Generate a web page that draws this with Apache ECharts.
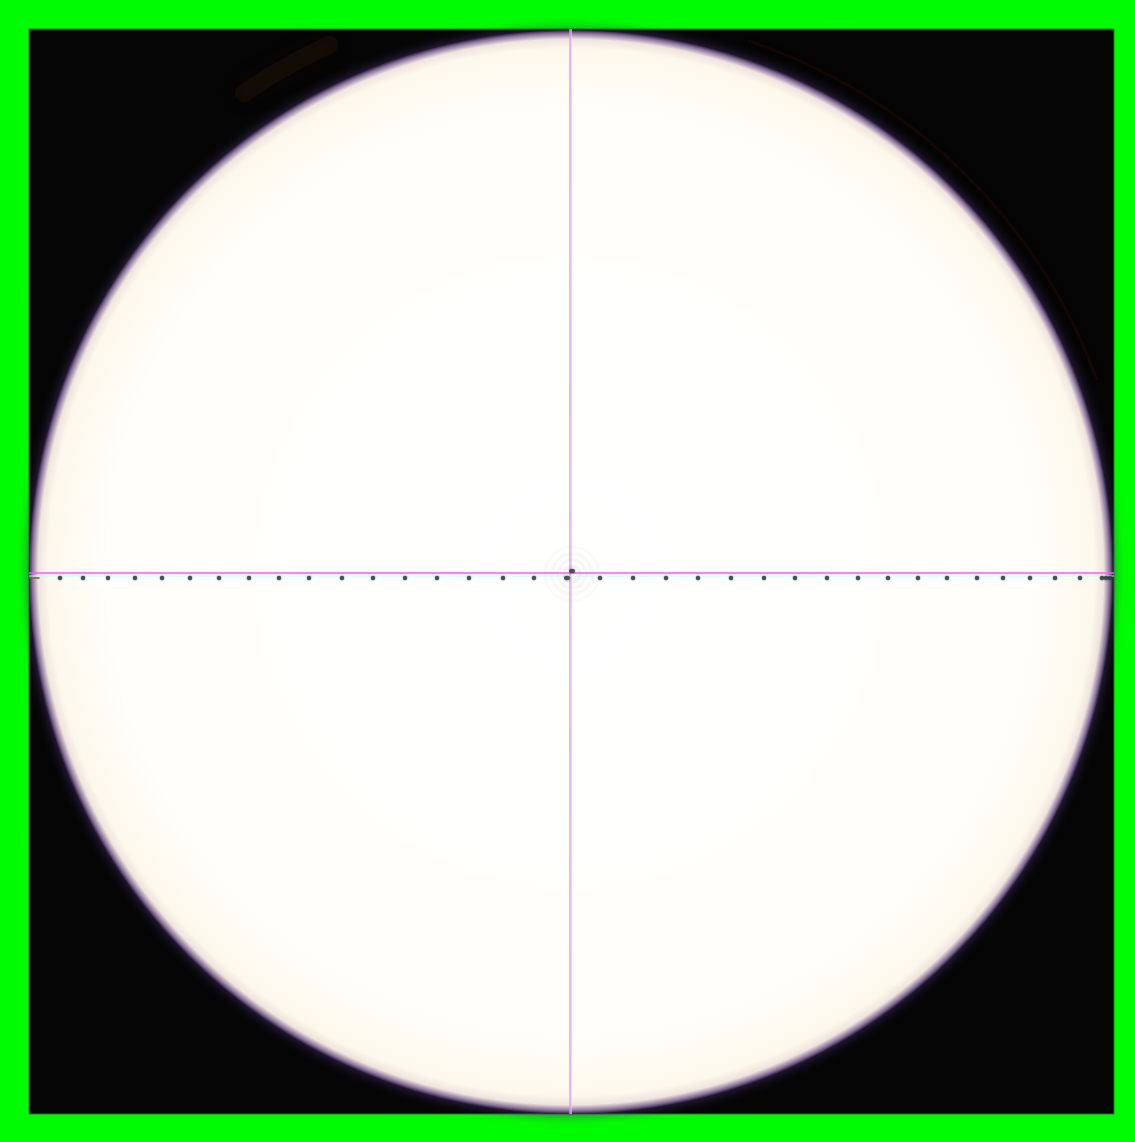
<!DOCTYPE html>
<html>
<head>
<meta charset="utf-8">
<script src="https://cdn.jsdelivr.net/npm/echarts@6/dist/echarts.min.js"></script>
<style>html,body{margin:0;padding:0;background:#00fc00;}#c{width:1135px;height:1142px;}</style>
</head>
<body>
<div id="c"></div>
<script>
// Scale tick marks along the horizontal reticle (x positions in image units)
const tickX = [60, 83, 108, 135, 162, 190, 219, 249, 279, 309, 342, 373, 405, 437, 469, 503, 534, 600, 633, 666, 698, 731, 764, 795, 827, 858, 888, 918, 947, 977, 1003, 1030, 1055, 1080, 1102, 1106, 1110];
const tickY = [578];
const leftEndMarks = [31, 35, 38];
// Field of view: frame [x0,y0,x1,y1] and circle [cx,cy,r]
const frame = [29, 29, 1114, 1114];
const fieldCircle = [571, 572, 542];
// Reticle crosshair: vertical x, horizontal y
const crossX = [570];
const crossY = [573];
const centerMark = [572, 571];
const diffractionRings = [8, 14, 20, 27];

const chart = echarts.init(document.getElementById('c'), null, {renderer: 'canvas'});
const dots = tickX.map(x => [x, tickY[0]]);
const left = leftEndMarks.map(x => [x, tickY[0]]);

chart.setOption({
  backgroundColor: '#00fc00',
  animation: false,
  grid: {left: 0, right: 0, top: 0, bottom: 0},
  xAxis: {type: 'value', min: 0, max: 1135, show: false},
  yAxis: {type: 'value', min: 0, max: 1142, inverse: true, show: false},
  series: [
    {
      type: 'custom', z: 1,
      data: [frame],
      renderItem: (params, api) => {
        const p0 = api.coord([api.value(0), api.value(1)]);
        const p1 = api.coord([api.value(2), api.value(3)]);
        return {type: 'rect', shape: {x: p0[0], y: p0[1], width: p1[0] - p0[0], height: p1[1] - p0[1]},
          style: {fill: '#050505', stroke: '#1a7a1a', lineWidth: 1}};
      }
    },
    {
      type: 'custom', z: 2,
      data: [fieldCircle],
      renderItem: (params, api) => {
        const c = api.coord([api.value(0), api.value(1)]);
        const r = api.size([api.value(2), 0])[0];
        return {type: 'group', children: [
          {type: 'arc', shape: {cx: c[0], cy: c[1], r: r + 38, startAngle: -2.17, endAngle: -2.0},
            style: {stroke: 'rgba(100,55,15,0.13)', lineWidth: 18, fill: null, lineCap: 'round', shadowBlur: 24, shadowColor: 'rgba(100,55,15,0.5)'}},
          {type: 'arc', shape: {cx: c[0], cy: c[1], r: r + 18, startAngle: -1.25, endAngle: -0.35},
            style: {stroke: 'rgba(70,30,10,0.18)', lineWidth: 3, fill: null, shadowBlur: 8, shadowColor: 'rgba(70,30,10,0.3)'}},
          {type: 'circle', shape: {cx: c[0], cy: c[1], r: r},
            style: {
              fill: {type: 'radial', x: 0.5, y: 0.5, r: 0.5, colorStops: [
                {offset: 0, color: '#ffffff'},
                {offset: 0.85, color: '#fffefa'},
                {offset: 0.965, color: '#fdf8ec'},
                {offset: 0.983, color: '#efe4de'},
                {offset: 0.994, color: '#86709a'},
                {offset: 1, color: '#2a1e3c'}
              ]},
              shadowBlur: 12, shadowColor: 'rgba(70,50,110,0.8)'
            }}
        ]};
      }
    },
    {
      type: 'custom', z: 3,
      data: [[crossX[0], crossY[0]]],
      renderItem: (params, api) => {
        const c = api.coord([api.value(0), api.value(1)]);
        const t = api.coord([frame[0], frame[1]]);
        const b = api.coord([frame[2], frame[3]]);
        const children = [
          {type: 'line', shape: {x1: c[0] + 1.2, y1: t[1], x2: c[0] + 1.2, y2: b[1]}, style: {stroke: '#a8e8ff', lineWidth: 1}},
          {type: 'line', shape: {x1: c[0], y1: t[1], x2: c[0], y2: b[1]}, style: {stroke: '#e096e8', lineWidth: 1.3}},
          {type: 'line', shape: {x1: t[0], y1: c[1] + 3, x2: b[0], y2: c[1] + 3}, style: {stroke: '#b8ffff', lineWidth: 1}},
          {type: 'line', shape: {x1: t[0], y1: c[1], x2: b[0], y2: c[1]}, style: {stroke: '#ff55ff', lineWidth: 1.6}}
        ];
        const cm = api.coord(centerMark);
        diffractionRings.forEach((rr, i) => {
          children.push({type: 'circle', shape: {cx: cm[0], cy: cm[1] + 3, r: api.size([rr, 0])[0]},
            style: {fill: null, stroke: 'rgba(120,120,130,' + (0.08 - i * 0.015) + ')', lineWidth: 3}});
        });
        return {type: 'group', children: children};
      }
    },
    {
      type: 'scatter', z: 4,
      data: dots,
      symbol: 'circle', symbolSize: 4.5,
      itemStyle: {color: '#2c3844', shadowBlur: 2, shadowColor: 'rgba(40,50,60,0.6)'}
    },
    {
      type: 'scatter', z: 4,
      data: [centerMark, [567, 578]],
      symbol: 'circle', symbolSize: [6, 4.5],
      itemStyle: {color: '#353c38', shadowBlur: 3, shadowColor: 'rgba(40,50,40,0.6)'}
    },
    {
      type: 'scatter', z: 4,
      data: left,
      symbol: 'rect', symbolSize: [3, 2],
      itemStyle: {color: '#8a5a30'}
    }
  ]
});
</script>
</body>
</html>
